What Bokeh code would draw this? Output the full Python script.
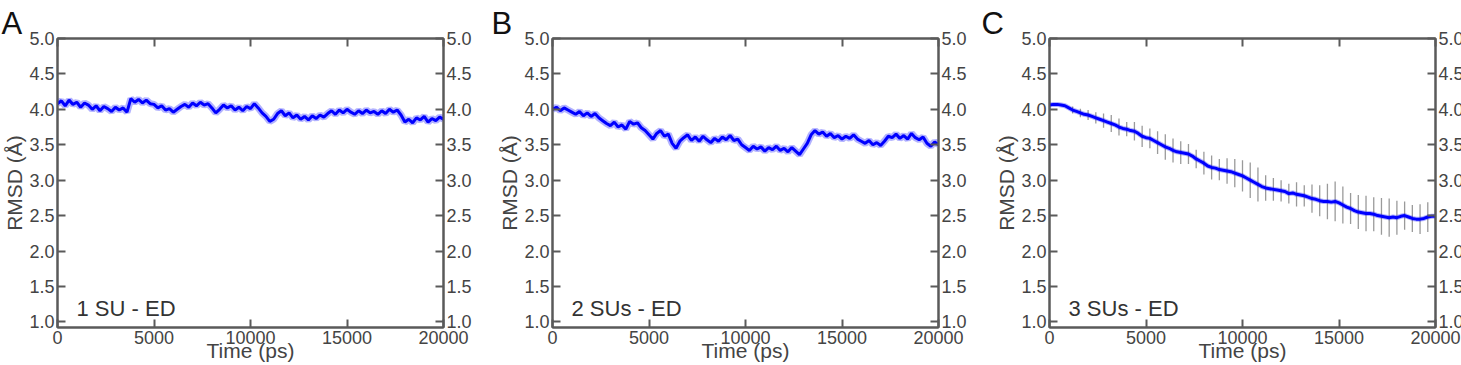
from bokeh.plotting import figure
from bokeh.layouts import row
from bokeh.models import Range1d, LinearAxis, FixedTicker, PrintfTickFormatter, Label
from bokeh.embed import file_html
from bokeh.resources import INLINE

# ---------------- data ----------------
TIME = list(range(0, 20001, 200))  # ps sampling grid

RMSD_1SU = [
    4.08, 4.12, 4.05, 4.13, 4.07, 4.10, 4.03, 4.09, 4.06,
    4.00, 4.05, 3.98, 4.04, 4.01, 3.97, 4.03, 3.99, 4.02, 3.96,
    4.15, 4.10, 4.14, 4.09, 4.13, 4.08,
    4.07, 4.02, 4.05, 3.99, 4.01, 3.96, 4.00,
    4.04, 4.07, 4.03, 4.09, 4.05, 4.10, 4.06, 4.08, 4.02,
    3.95, 4.00,
    4.06, 4.02, 4.05, 3.99, 4.03, 3.98, 4.04, 4.01, 4.08,
    4.02, 3.95, 3.90, 3.83, 3.86,
    3.94, 3.98, 3.91, 3.95,
    3.88, 3.92, 3.86, 3.90, 3.85, 3.91, 3.87, 3.92, 3.89,
    3.94, 3.98, 3.93, 3.99, 3.95, 4.00, 3.96, 3.93, 3.98, 3.94,
    3.99, 3.95, 3.97, 3.93, 3.98, 3.94, 4.00, 3.96, 3.99, 3.92,
    3.82, 3.86, 3.81, 3.88, 3.85, 3.90, 3.82, 3.87, 3.84, 3.89, 3.86,
]

RMSD_2SU = [
    4.00, 4.03, 3.98, 4.02, 3.99, 3.96,
    3.93, 3.97, 3.91, 3.95, 3.90, 3.94, 3.88,
    3.84, 3.80, 3.77, 3.82, 3.75, 3.78,
    3.72, 3.83, 3.79, 3.81,
    3.74, 3.70, 3.64, 3.58, 3.66,
    3.70, 3.62, 3.65,
    3.52, 3.45, 3.55,
    3.60, 3.64, 3.56, 3.61, 3.55, 3.62, 3.57,
    3.53, 3.59, 3.55, 3.61, 3.57, 3.63, 3.56, 3.58,
    3.50, 3.46, 3.42, 3.48, 3.44, 3.47, 3.41, 3.46, 3.43, 3.48, 3.42, 3.45, 3.40, 3.46, 3.41,
    3.36, 3.44, 3.52,
    3.64, 3.70, 3.65, 3.68,
    3.62, 3.66, 3.60, 3.63, 3.58, 3.62, 3.59, 3.64, 3.58, 3.55, 3.52, 3.56, 3.50, 3.53, 3.49,
    3.55, 3.62,
    3.60, 3.65, 3.59, 3.63, 3.58, 3.66, 3.60, 3.57, 3.61,
    3.52, 3.48, 3.54, 3.50,
]

RMSD_3SU = [
    4.06, 4.07, 4.07, 4.06, 4.05, 4.02, 3.99, 3.97, 3.95, 3.93,
    3.92, 3.90, 3.88, 3.86, 3.84, 3.82, 3.80, 3.78, 3.75, 3.73,
    3.72, 3.70, 3.69, 3.66, 3.62, 3.60, 3.59, 3.56, 3.53, 3.50,
    3.47, 3.45, 3.42, 3.40, 3.39, 3.38, 3.37, 3.34, 3.30, 3.27,
    3.24, 3.20, 3.18, 3.17, 3.15, 3.14, 3.13, 3.12, 3.10, 3.08,
    3.06, 3.03, 3.00, 2.97, 2.94, 2.91, 2.89, 2.88, 2.87, 2.86,
    2.85, 2.84, 2.81, 2.82, 2.80, 2.79, 2.78, 2.76, 2.74, 2.73,
    2.71, 2.70, 2.70, 2.69, 2.70, 2.68, 2.65, 2.62, 2.60, 2.57,
    2.55, 2.54, 2.53, 2.53, 2.52, 2.50, 2.49, 2.48, 2.47, 2.48,
    2.47, 2.49, 2.50, 2.48, 2.46, 2.45, 2.45, 2.46, 2.48, 2.49,
    2.49,
]

ERR_TIME = list(range(1200, 20001, 400))
ERR_3SU = [
    0.05, 0.06, 0.07, 0.08, 0.10, 0.12, 0.12, 0.10, 0.13, 0.15,
    0.14, 0.16, 0.18, 0.17, 0.16, 0.14, 0.13, 0.16, 0.17, 0.15,
    0.18, 0.20, 0.22, 0.25, 0.24, 0.18, 0.16, 0.15, 0.14, 0.17,
    0.15, 0.20, 0.22, 0.25, 0.28, 0.26, 0.22, 0.24, 0.25, 0.24,
    0.26, 0.27, 0.24, 0.20, 0.19, 0.21, 0.21, 0.20,
]

PANEL_LETTERS = ["A", "B", "C"]
PANEL_TEXTS = ["1 SU - ED", "2 SUs - ED", "3 SUs - ED"]
X_TICKS = [0, 5000, 10000, 15000, 20000]
Y_TICKS = [1.0, 1.5, 2.0, 2.5, 3.0, 3.5, 4.0, 4.5, 5.0]
X_LABEL = "Time (ps)"
Y_LABEL = "RMSD (Å)"

# ---------------- style ----------------
FONT = "Liberation Sans"
AX = "#5a5a5a"
TXT = "#444444"
BLUE = "#0000ff"
FW, FH = 386, 289
X0, X1 = 0, 20000
Y0, Y1 = 0.92, 5.0
PX_X = (X1 - X0) / FW
PX_Y = (Y1 - Y0) / FH


def style_axis(ax):
    ax.axis_line_color = AX
    ax.axis_line_width = 2
    ax.major_tick_line_color = AX
    ax.major_tick_line_width = 2
    ax.major_tick_in = 8
    ax.major_tick_out = 0
    ax.minor_tick_in = 0
    ax.minor_tick_out = 0
    ax.major_label_text_font = FONT
    ax.major_label_text_color = TXT
    ax.major_label_text_font_size = "18px"
    ax.major_label_standoff = 3
    ax.axis_label_text_font = FONT
    ax.axis_label_text_font_size = "21px"
    ax.axis_label_text_font_style = "normal"
    ax.axis_label_text_color = TXT


def make_panel(letter, note, ys, left, right, err=None):
    p = figure(frame_width=FW, frame_height=FH,
               min_border_left=left, min_border_right=right,
               min_border_top=38, min_border_bottom=38,
               x_range=Range1d(X0, X1), y_range=Range1d(Y0, Y1),
               x_axis_location=None, y_axis_location=None,
               output_backend="svg", toolbar_location=None)
    p.xgrid.grid_line_color = None
    p.ygrid.grid_line_color = None
    p.outline_line_color = AX
    p.outline_line_width = 2
    p.background_fill_color = "white"
    p.border_fill_color = "white"

    # panel letter as title
    p.title.text = letter
    p.title.text_font = FONT
    p.title.text_font_size = "31px"
    p.title.text_font_style = "normal"
    p.title.text_color = "#111111"
    p.title.align = "left"
    p.title.offset = -left
    p.title.standoff = -4

    yl = LinearAxis(ticker=FixedTicker(ticks=Y_TICKS),
                    formatter=PrintfTickFormatter(format="%.1f"),
                    axis_label=Y_LABEL)
    style_axis(yl)
    yl.axis_label_standoff = 0
    p.add_layout(yl, "left")

    yr = LinearAxis(ticker=FixedTicker(ticks=Y_TICKS),
                    formatter=PrintfTickFormatter(format="%.1f"))
    style_axis(yr)
    p.add_layout(yr, "right")

    xb = LinearAxis(ticker=FixedTicker(ticks=X_TICKS),
                    formatter=PrintfTickFormatter(format="%d"),
                    axis_label=X_LABEL)
    style_axis(xb)
    xb.axis_label_standoff = -8
    p.add_layout(xb, "below")

    xt = LinearAxis(ticker=FixedTicker(ticks=X_TICKS),
                    major_label_overrides={t: "" for t in X_TICKS})
    style_axis(xt)
    xt.major_label_standoff = 0
    xt.major_label_text_font_size = "1px"
    p.add_layout(xt, "above")

    if err is not None:
        centers = [ys[TIME.index(t)] for t in ERR_TIME]
        lo = [c - e for c, e in zip(centers, err)]
        hi = [c + e for c, e in zip(centers, err)]
        p.segment(x0=ERR_TIME, y0=lo, x1=ERR_TIME, y1=hi,
                  line_color="#9a9a9a", line_width=1.3)
        p.line(TIME, ys, line_color=BLUE, line_width=5, line_alpha=0.3)
        p.line(TIME, ys, line_color=BLUE, line_width=3)
    else:
        p.line(TIME, ys, line_color=BLUE, line_width=7, line_alpha=0.3)
        p.line(TIME, ys, line_color=BLUE, line_width=3)

    # panel annotation
    p.add_layout(Label(x=X0 + 19 * PX_X, y=Y0 + 19 * PX_Y, text=note,
                       text_font=FONT, text_font_size="22px", text_color="#333333",
                       text_align="left", text_baseline="alphabetic"))
    return p


pA = make_panel(PANEL_LETTERS[0], PANEL_TEXTS[0], RMSD_1SU, 56, 48)
pB = make_panel(PANEL_LETTERS[1], PANEL_TEXTS[1], RMSD_2SU, 61, 43)
pC = make_panel(PANEL_LETTERS[2], PANEL_TEXTS[2], RMSD_3SU, 68, 28, err=ERR_3SU)

layout = row(pA, pB, pC, spacing=0)
open("out.html", "w").write(file_html(layout, INLINE))
